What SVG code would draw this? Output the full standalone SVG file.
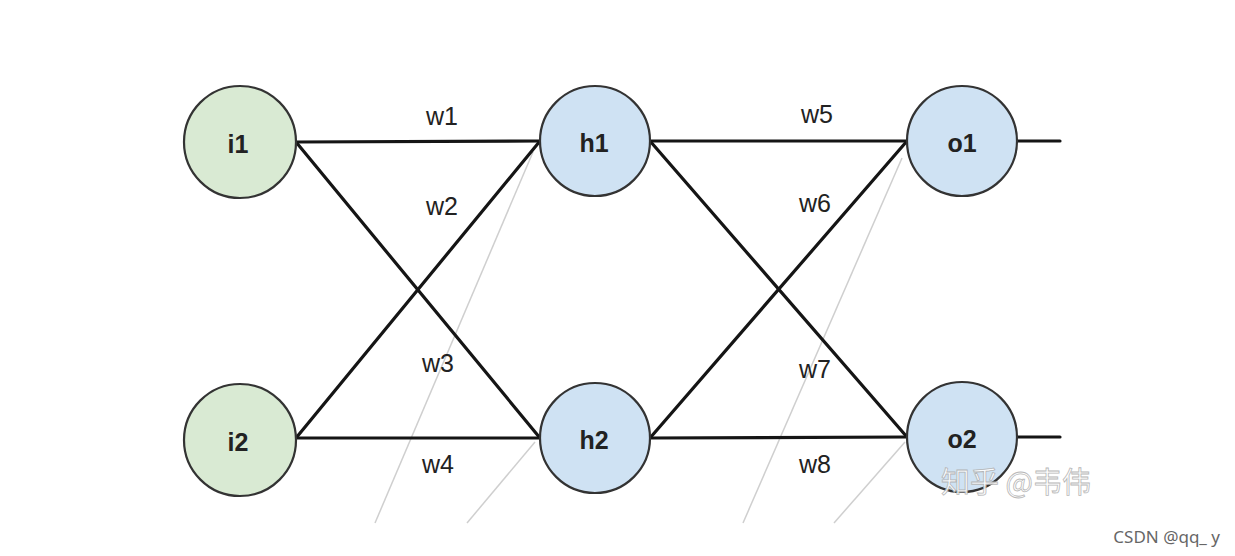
<svg xmlns="http://www.w3.org/2000/svg" width="1235" height="556" viewBox="0 0 1235 556">
<style>
.in{fill:#d9ead3;stroke:#333;stroke-width:2.2}
.hid{fill:#cfe2f3;stroke:#333;stroke-width:2.2}
.nl{font-family:"Liberation Sans",Arial,sans-serif;font-weight:bold;font-size:25px;fill:#222;text-anchor:middle}
.wl{font-family:"Liberation Sans",Arial,sans-serif;font-size:25px;fill:#222;text-anchor:middle}
.edge{stroke:#151515;stroke-width:3.2;fill:none;stroke-linecap:round}
.ghost{stroke:#cfcfcf;stroke-width:1.5;fill:none}
</style>
<rect width="1235" height="556" fill="#fff"/>
<g id="ghost-lines">
<line class="ghost" x1="533" y1="152" x2="375" y2="523"/>
<line class="ghost" x1="535" y1="442" x2="467" y2="523"/>
<line class="ghost" x1="902" y1="158" x2="743" y2="523"/>
<line class="ghost" x1="905" y1="442" x2="834" y2="523"/>
</g>
<g id="connectors">
<line class="edge" x1="296" y1="142" x2="540" y2="141"/>
<line class="edge" x1="296" y1="142" x2="540" y2="438"/>
<line class="edge" x1="296" y1="438" x2="540" y2="141"/>
<line class="edge" x1="296" y1="438" x2="540" y2="438"/>
<line class="edge" x1="650" y1="141" x2="907" y2="141"/>
<line class="edge" x1="650" y1="141" x2="907" y2="437"/>
<line class="edge" x1="650" y1="438" x2="907" y2="141"/>
<line class="edge" x1="650" y1="438" x2="907" y2="437"/>
<line class="edge" x1="1018" y1="141" x2="1060" y2="141"/>
<line class="edge" x1="1018" y1="437" x2="1060" y2="437"/>
<text class="wl" x="442" y="125">w1</text>
<text class="wl" x="442" y="215">w2</text>
<text class="wl" x="438" y="372">w3</text>
<text class="wl" x="438" y="473">w4</text>
<text class="wl" x="817" y="123">w5</text>
<text class="wl" x="815" y="212">w6</text>
<text class="wl" x="815" y="378">w7</text>
<text class="wl" x="815" y="473">w8</text>
</g>
<g id="node-i1"><circle class="in" cx="240" cy="142" r="56"/><text class="nl" x="238" y="153">i1</text></g>
<g id="node-i2"><circle class="in" cx="240" cy="440" r="56"/><text class="nl" x="238" y="451">i2</text></g>
<g id="node-h1"><circle class="hid" cx="595" cy="141" r="55"/><text class="nl" x="594" y="152">h1</text></g>
<g id="node-h2"><circle class="hid" cx="595" cy="438" r="55"/><text class="nl" x="594" y="449">h2</text></g>
<g id="node-o1"><circle class="hid" cx="962" cy="141" r="55"/><text class="nl" x="962" y="152">o1</text></g>
<g id="node-o2"><circle class="hid" cx="962" cy="437" r="55"/><text class="nl" x="962" y="448">o2</text></g>
<text x="1016" y="493" font-family="'Noto Sans CJK SC',sans-serif" font-size="29" fill="#ffffff" stroke="#b0b0b0" stroke-width="0.8" text-anchor="middle" opacity="0.9">知乎 @韦伟</text>
<text x="1220" y="543" font-family="'Noto Sans','Noto Sans CJK SC',sans-serif" font-size="17" fill="#666" text-anchor="end">CSDN @qq_ y</text>
</svg>
